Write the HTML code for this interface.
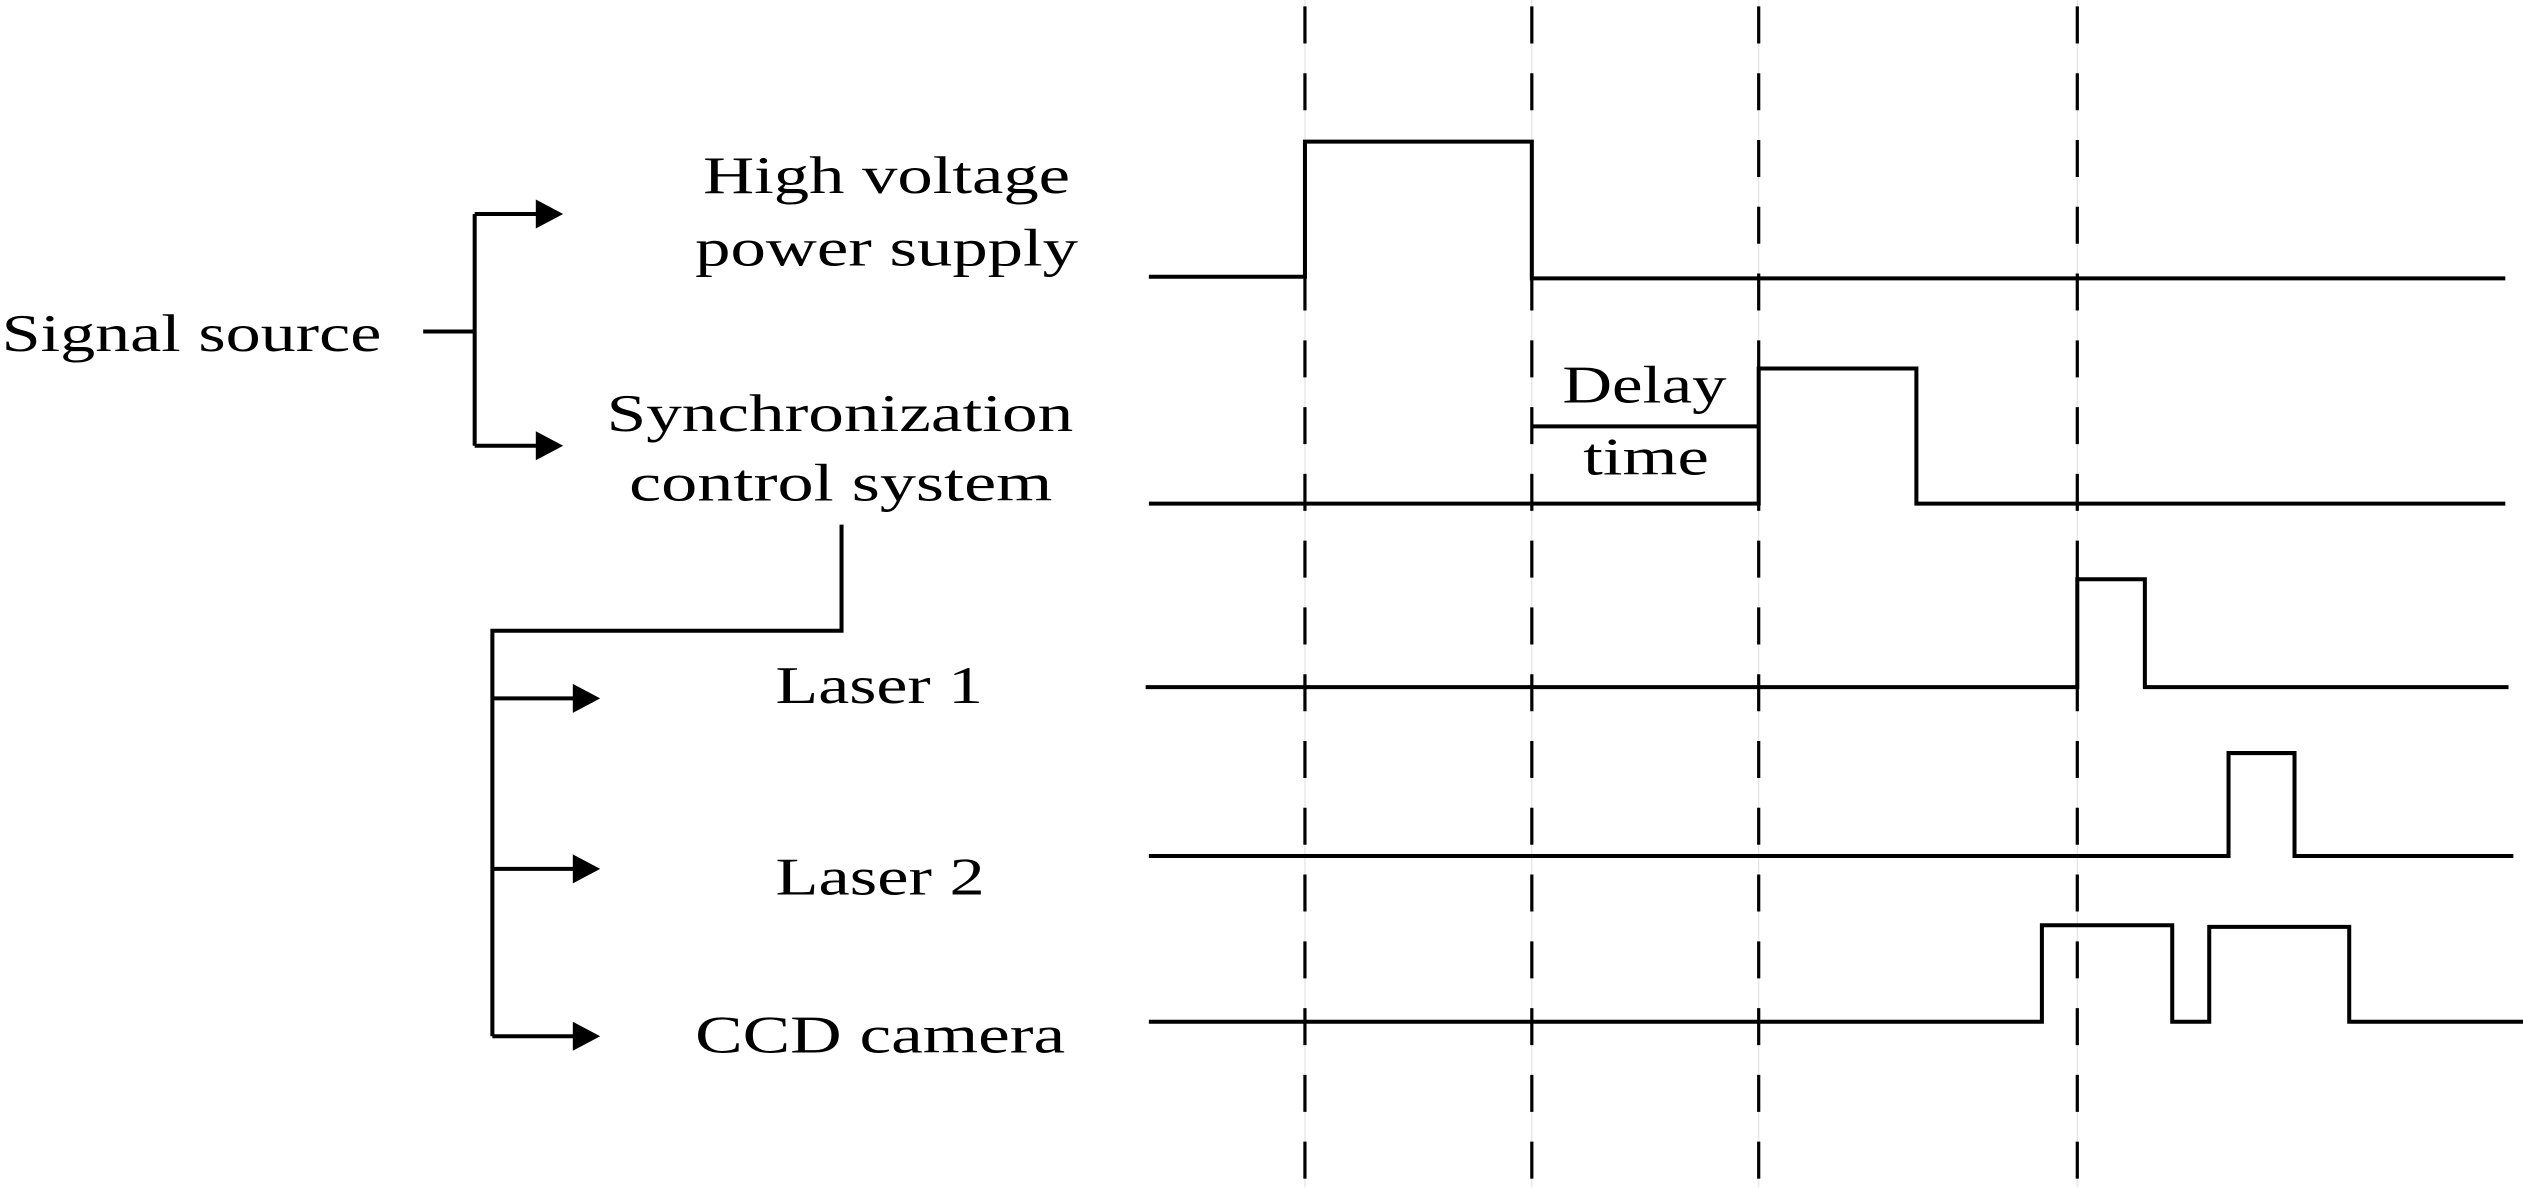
<!DOCTYPE html>
<html><head><meta charset="utf-8"><style>
html,body{margin:0;padding:0;background:#fff;}
svg{display:block;}
text{font-family:"Liberation Serif",serif;font-size:33px;fill:#000;}
</style></head><body>
<svg width="2523" height="1188" viewBox="0 0 1568 738.3" preserveAspectRatio="none">
<g stroke="#ddd" stroke-width="0.6">
<line x1="811" y1="0" x2="811" y2="738"/><line x1="952" y1="0" x2="952" y2="738"/>
<line x1="1093" y1="0" x2="1093" y2="738"/><line x1="1291" y1="0" x2="1291" y2="738"/>
</g>
<g stroke="#000" stroke-width="2" stroke-dasharray="23 18.5" stroke-dashoffset="-4">
<line x1="811" y1="0" x2="811" y2="738"/><line x1="952" y1="0" x2="952" y2="738"/>
<line x1="1093" y1="0" x2="1093" y2="738"/><line x1="1291" y1="0" x2="1291" y2="738"/>
</g>
<g stroke="#000" stroke-width="2.5" fill="none">
<polyline points="714,172 811,172 811,88 952,88 952,173 1557,173"/>
<polyline points="714,313 1093,313 1093,229 1191,229 1191,313 1557,313"/>
<polyline points="952,265 1093,265"/>
<polyline points="712,427 1291,427 1291,360 1333,360 1333,427 1559,427"/>
<polyline points="714,532 1385,532 1385,468 1426,468 1426,532 1562,532"/>
<polyline points="714,635 1269,635 1269,575 1350,575 1350,635 1373,635 1373,576 1460,576 1460,635 1568,635"/>
<polyline points="263,206 295,206"/>
<polyline points="295,133 295,277"/>
<polyline points="295,133 335,133"/><polyline points="295,277 335,277"/>
<polyline points="523,326 523,392 306,392 306,644"/>
<polyline points="306,434 358,434"/><polyline points="306,540 358,540"/><polyline points="306,644 358,644"/>
</g>
<g fill="#000">
<polygon points="333,124 350,133 333,142"/>
<polygon points="333,268 350,277 333,286"/>
<polygon points="356,425 373,434 356,443"/>
<polygon points="356,531 373,540 356,549"/>
<polygon points="356,635 373,644 356,653"/>
</g>
<g lengthAdjust="spacingAndGlyphs">
<text x="437" y="120" textLength="228" lengthAdjust="spacingAndGlyphs">High voltage</text>
<text x="432" y="165" textLength="238" lengthAdjust="spacingAndGlyphs">power supply</text>
<text x="1" y="218" textLength="236" lengthAdjust="spacingAndGlyphs">Signal source</text>
<text x="377" y="268" textLength="290" lengthAdjust="spacingAndGlyphs">Synchronization</text>
<text x="391" y="311" textLength="263" lengthAdjust="spacingAndGlyphs">control system</text>
<text x="971" y="250" textLength="102" lengthAdjust="spacingAndGlyphs">Delay</text>
<text x="984" y="295" textLength="78" lengthAdjust="spacingAndGlyphs">time</text>
<text x="482" y="437" textLength="129" lengthAdjust="spacingAndGlyphs">Laser 1</text>
<text x="482" y="556" textLength="130" lengthAdjust="spacingAndGlyphs">Laser 2</text>
<text x="432" y="654" textLength="230" lengthAdjust="spacingAndGlyphs">CCD camera</text>
</g>
</svg>
</body></html>
